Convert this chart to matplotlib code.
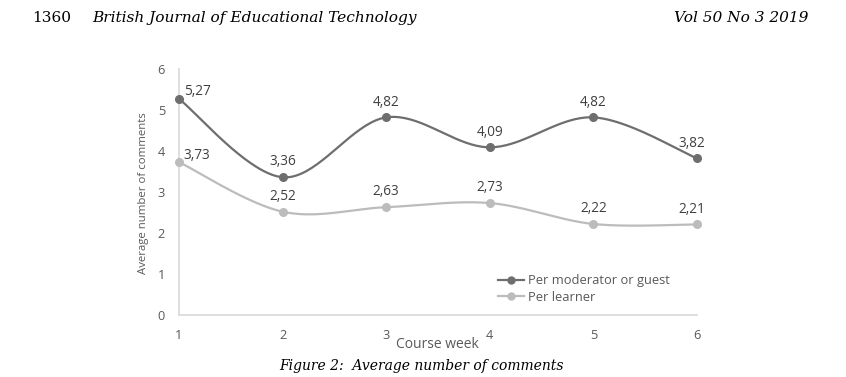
import numpy as np
import matplotlib
matplotlib.use('Agg')
from matplotlib import pyplot as plt

weeks = [1, 2, 3, 4, 5, 6]
moderator = [5.27, 3.36, 4.82, 4.09, 4.82, 3.82]
learner = [3.73, 2.52, 2.63, 2.73, 2.22, 2.21]
yticks = [0, 1, 2, 3, 4, 5, 6]


def smooth(x, y, n=40):
    # Excel-style smoothed line (Bezier through points, tension 1/6)
    x = np.asarray(x, float)
    y = np.asarray(y, float)
    px = np.concatenate([[x[0]], x, [x[-1]]])
    py = np.concatenate([[y[0]], y, [y[-1]]])
    xs, ys = [], []
    t = np.linspace(0, 1, n)
    for i in range(1, len(x)):
        p0 = np.array([px[i], py[i]])
        p3 = np.array([px[i+1], py[i+1]])
        c1 = p0 + (p3 - np.array([px[i-1], py[i-1]])) / 6
        c2 = p3 - (np.array([px[i+2], py[i+2]]) - p0) / 6
        b = ((1-t)**3)[:, None]*p0 + (3*(1-t)**2*t)[:, None]*c1 \
            + (3*(1-t)*t**2)[:, None]*c2 + (t**3)[:, None]*p3
        xs.extend(b[:, 0])
        ys.extend(b[:, 1])
    return np.array(xs), np.array(ys)


gray_txt = '#595959'
c_mod = '#6e6e6e'
c_lrn = '#bcbcbc'
chart_font = 'Open Sans'
serif = 'DejaVu Serif'

fig = plt.figure(figsize=(8.46, 3.77), dpi=100)
fig.patch.set_facecolor('white')

ax = fig.add_axes([179/846, 1-315/377, (697-179)/846, (315-69)/377])

sx, sy = smooth(weeks, moderator)
ax.plot(sx, sy, color=c_mod, lw=1.6, clip_on=False, zorder=3)
ax.plot(weeks, moderator, 'o', color=c_mod, ms=5.5, clip_on=False, zorder=4)
sx, sy = smooth(weeks, learner)
ax.plot(sx, sy, color=c_lrn, lw=1.6, clip_on=False, zorder=3)
ax.plot(weeks, learner, 'o', color=c_lrn, ms=5.5, clip_on=False, zorder=4)

# legend handles
ax.plot([], [], '-o', color=c_mod, lw=1.6, ms=5, label='Per moderator or guest')
ax.plot([], [], '-o', color=c_lrn, lw=1.6, ms=5, label='Per learner')

for series in (moderator, learner):
    for w, v in zip(weeks, series):
        lab = ('%.2f' % v).replace('.', ',')
        if w == 1:
            off = (13, 5)
        elif w == 6:
            off = (-4, 11)
        else:
            off = (0, 11)
        ax.annotate(lab, (w, v), xytext=off, textcoords='offset points',
                    ha='center', va='center', fontsize=9.8,
                    color='#404040', family=chart_font)

ax.set_xlim(1, 6)
ax.set_ylim(0, 6)
ax.set_xticks(weeks)
ax.set_yticks(yticks)
ax.tick_params(length=0, labelsize=9.2, labelcolor=gray_txt, pad=10)
for lbl in ax.get_xticklabels() + ax.get_yticklabels():
    lbl.set_family(chart_font)
for s in ('top', 'right'):
    ax.spines[s].set_visible(False)
for s in ('left', 'bottom'):
    ax.spines[s].set_color('#d9d9d9')
    ax.spines[s].set_linewidth(1.2)

fig.text(143/846, 1-193/377, 'Average number of comments', rotation=90,
         ha='center', va='center', fontsize=8.2, color=gray_txt, family=chart_font)
fig.text(437/846, 1-344/377, 'Course week', ha='center', va='center',
         fontsize=10, color=gray_txt, family=chart_font)

leg = ax.legend(loc='center left', bbox_to_anchor=(492/846, 1-289/377),
                bbox_transform=fig.transFigure, frameon=False,
                prop={'family': chart_font, 'size': 9.3},
                handlelength=2.0, handletextpad=0.3, labelspacing=0.25,
                borderpad=0)
for t in leg.get_texts():
    t.set_color(gray_txt)

# page header and caption
fig.text(32/846, 1-18/377, '1360', ha='left', va='center',
         fontsize=11.1, family=serif)
fig.text(92/846, 1-18/377, 'British Journal of Educational Technology',
         ha='left', va='center', fontsize=11.1, style='italic', family=serif)
fig.text(808/846, 1-18/377, 'Vol 50 No 3 2019', ha='right', va='center',
         fontsize=11.1, style='italic', family=serif)
fig.text(421/846, 1-366/377, 'Figure 2:  Average number of comments',
         ha='center', va='center', fontsize=10, style='italic', family=serif)

plt.savefig('out.png', dpi=100)
